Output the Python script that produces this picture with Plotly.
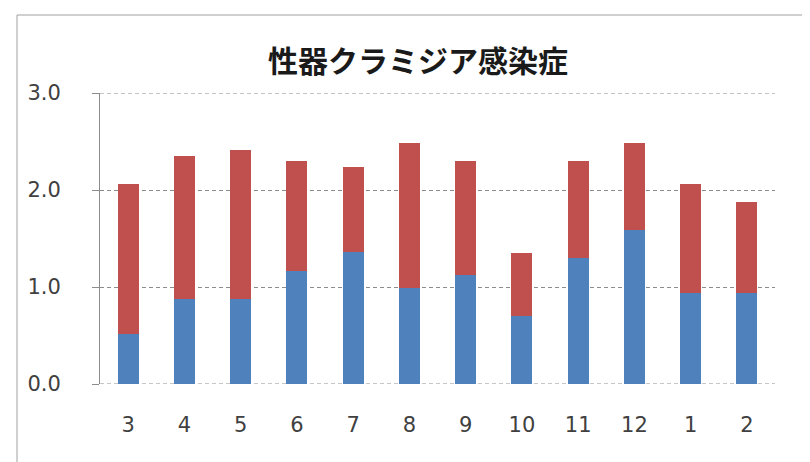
import plotly.graph_objects as go

months = ["3", "4", "5", "6", "7", "8", "9", "10", "11", "12", "1", "2"]
blue_vals = [0.52, 0.88, 0.88, 1.17, 1.36, 0.99, 1.12, 0.70, 1.30, 1.59, 0.94, 0.94]
red_vals = [1.54, 1.47, 1.53, 1.13, 0.88, 1.49, 1.18, 0.65, 1.00, 0.89, 1.12, 0.94]
y_ticks = [0, 1, 2, 3]
y_tick_labels = ["0.0", "1.0", "2.0", "3.0"]
title_text = "性器クラミジア感染症"

fig = go.Figure()
fig.add_trace(go.Bar(x=months, y=blue_vals, marker=dict(color="#4F81BD", line=dict(width=0)), name="A"))
fig.add_trace(go.Bar(x=months, y=red_vals, marker=dict(color="#C0504D", line=dict(width=0)), name="B"))

OFF = 8  # page body margin
W, H = 810, 462
L, R, T, B = 100 - OFF, 35 + OFF, 93 - OFF, 78 + OFF
pw = W - L - R
ph = H - T - B
GRID = "#8c8c8c"

fig.update_layout(
    width=W, height=H,
    barmode="stack", bargap=0.63,
    showlegend=False,
    plot_bgcolor="white", paper_bgcolor="white",
    margin=dict(l=L, r=R, t=T, b=B, pad=0),
    title=dict(text="<b>" + title_text + "</b>", x=(418 - OFF) / W, xanchor="center", xref="container",
               y=1 - (61 - OFF) / H, yanchor="middle", yref="container",
               font=dict(family="Noto Sans CJK JP", size=30, color="#1a1a1a")),
    font=dict(family="Noto Sans CJK JP", color="#404040"),
)
fig.update_xaxes(
    type="category", showgrid=False, zeroline=False, showline=False,
    ticks="", tickfont=dict(size=21, color="#404040", family="DejaVu Sans"),
    ticklabelstandoff=26,
)
fig.update_yaxes(
    range=[0, 3], tickvals=y_ticks, ticktext=y_tick_labels,
    showgrid=True, gridcolor=GRID, gridwidth=1, griddash="4px,3px",
    zeroline=False, showline=True, linecolor=GRID, linewidth=1,
    ticks="outside", ticklen=7, tickcolor=GRID,
    tickfont=dict(size=21, color="#404040", family="DejaVu Sans"),
    ticklabelstandoff=27,
)
# gridlines at the range edges (plotly omits them)
for v in (y_ticks[0], y_ticks[-1]):
    fig.add_shape(type="line", xref="paper", yref="y", x0=0, x1=1, y0=v, y1=v,
                  line=dict(color=GRID, width=1, dash="4px,3px"), layer="below")
# chart-area border
fig.add_shape(type="rect", xref="paper", yref="paper",
              x0=(17 - OFF - L) / pw, x1=(W + 20 - L) / pw,
              y0=-(H + 20 - T - ph) / ph, y1=(T + ph - (15 - OFF)) / ph,
              line=dict(color="#a0a0a0", width=1), fillcolor="rgba(0,0,0,0)", layer="below")

fig.write_html("out.html")
